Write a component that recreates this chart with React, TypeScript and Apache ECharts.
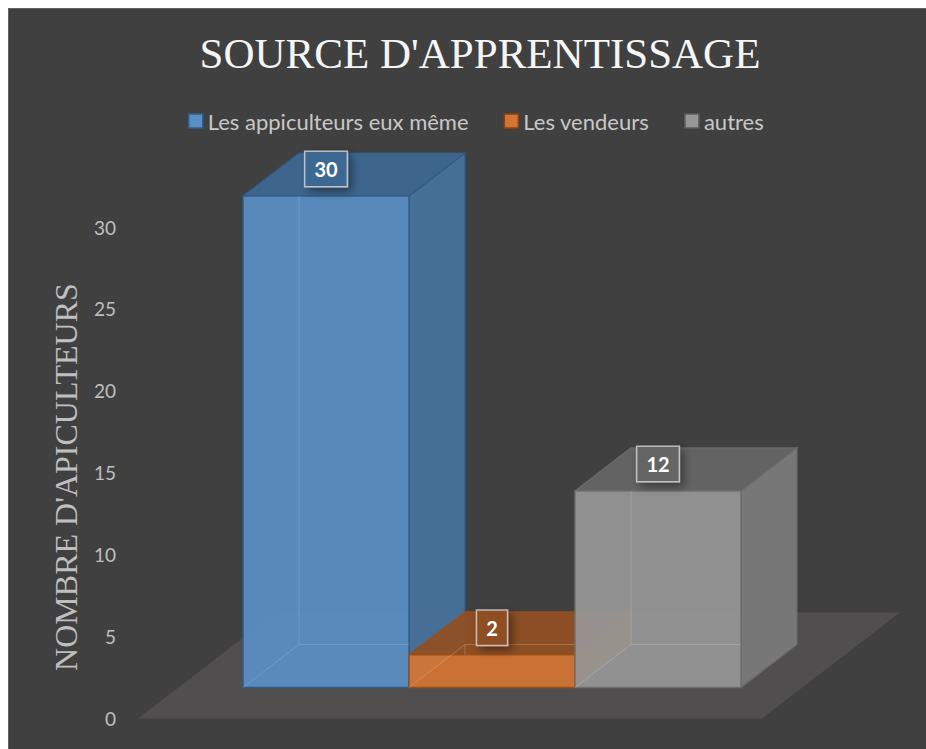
import React, { useEffect, useRef } from 'react';
import * as echarts from 'echarts';

// ---------- data ----------
const chartTitle = "SOURCE D'APPRENTISSAGE";
const yAxisTitle = "NOMBRE D'APICULTEURS";
const categories = ['Source'];
const seriesNames = ['Les appiculteurs eux même', 'Les vendeurs', 'autres'];
const seriesValues = [30, 2, 12];
const Y_MIN = 0;
const Y_MAX = 30;
const Y_INTERVAL = 5;

// ---------- styling ----------
const palette = [
  { front: '#5a8fc4', top: '#3e6892', side: '#46729b', edge: '#2e5c88', hidden: 'rgba(150,200,250,0.30)', legendBorder: '#2f5f8f' },
  { front: '#d57533', top: '#8f5023', side: '#a85b22', edge: '#9a4e17', hidden: 'rgba(255,190,140,0.30)', legendBorder: '#8a4312' },
  { front: '#979797', top: '#656565', side: '#7a7a7a', edge: '#6c6c6c', hidden: 'rgba(230,230,230,0.22)', legendBorder: '#5e5e5e' },
];
const BAR_FRACTION = 0.266;
const FRONT_DX = 42;
const FRONT_DY = 31;
const DEPTH_DX = 56;
const DEPTH_DY = 43;
const FLOOR_DX = 138;
const FLOOR_DY = 106;
const LABEL_OFFSET = 27;

function makeBarRender(idx: number) {
  return (params: any, api: any) => {
    const v = api.value(1);
    const p0 = api.coord([api.value(0), Y_MIN]);
    const p1 = api.coord([api.value(0), v]);
    const band = api.size([1, 0])[0];
    const barW = band * BAR_FRACTION;
    const x0 = p0[0] - (seriesNames.length / 2) * barW + idx * barW + FRONT_DX;
    const x1 = x0 + barW;
    const yb = p0[1] - FRONT_DY;
    const yt = p1[1] - FRONT_DY;
    const c = palette[idx];
    const front = [[x0, yb], [x1, yb], [x1, yt], [x0, yt]];
    const top = [[x0, yt], [x1, yt], [x1 + DEPTH_DX, yt - DEPTH_DY], [x0 + DEPTH_DX, yt - DEPTH_DY]];
    const side = [[x1, yb], [x1 + DEPTH_DX, yb - DEPTH_DY], [x1 + DEPTH_DX, yt - DEPTH_DY], [x1, yt]];
    return {
      type: 'group',
      children: [
        { type: 'polygon', shape: { points: side }, style: { fill: c.side, stroke: c.edge, lineWidth: 1.2, opacity: 0.94 } },
        { type: 'polygon', shape: { points: top }, style: { fill: c.top, stroke: c.edge, lineWidth: 1.2, opacity: 0.94 } },
        { type: 'polygon', shape: { points: front }, style: { fill: c.front, stroke: c.edge, lineWidth: 1.5, opacity: 0.92 } },
        { type: 'line', shape: { x1: x0 + DEPTH_DX, y1: yt, x2: x0 + DEPTH_DX, y2: yb - DEPTH_DY }, style: { stroke: c.hidden, lineWidth: 1 } },
        { type: 'line', shape: { x1: x0 + DEPTH_DX, y1: yb - DEPTH_DY, x2: x1, y2: yb - DEPTH_DY }, style: { stroke: c.hidden, lineWidth: 1 } },
        { type: 'line', shape: { x1: x0, y1: yb, x2: x0 + DEPTH_DX, y2: yb - DEPTH_DY }, style: { stroke: c.hidden, lineWidth: 1 } },
        {
          type: 'text',
          z2: 20,
          style: {
            text: String(v),
            x: (x0 + x1) / 2,
            y: yt - LABEL_OFFSET,
            align: 'center',
            verticalAlign: 'middle',
            fill: '#ffffff',
            fontFamily: 'Lato',
            fontWeight: 'bold',
            fontSize: 20,
            backgroundColor: c.top,
            borderColor: 'rgba(225,225,225,0.75)',
            borderWidth: 1.5,
            padding: [7, 9],
            shadowColor: 'rgba(0,0,0,0.45)',
            shadowBlur: 10,
            shadowOffsetX: 4,
            shadowOffsetY: 4,
          },
        },
      ],
    };
  };
}

export default function App() {
  const ref = useRef<HTMLDivElement>(null);
  useEffect(() => {
    if (!ref.current) return;
    const chart = echarts.init(ref.current, null, { renderer: 'svg' });
    const floorSeries: any = {
      type: 'custom',
      name: 'floor',
      silent: true,
      z: 1,
      data: [[0, Y_MIN]],
      encode: { x: 0, y: 1 },
      renderItem: (params: any, api: any) => {
        const cs = params.coordSys;
        const yf = api.coord([0, Y_MIN])[1];
        const xl = cs.x;
        const xr = cs.x + cs.width;
        return {
          type: 'polygon',
          shape: { points: [[xl, yf], [xr, yf], [xr + FLOOR_DX, yf - FLOOR_DY], [xl + FLOOR_DX, yf - FLOOR_DY]] },
          style: { fill: '#504e4e' },
        };
      },
    };
    const barSeries = seriesNames.map((name, i) => ({
      type: 'custom',
      name,
      z: 2,
      data: [[0, seriesValues[i]]],
      encode: { x: 0, y: 1 },
      itemStyle: { color: palette[i].front },
      renderItem: makeBarRender(i),
    }));
    chart.setOption({
      animation: false,
      backgroundColor: '#404040',
      title: {
        text: chartTitle,
        left: 466,
        textAlign: 'center',
        top: 18,
        textStyle: { fontFamily: 'Liberation Serif', fontSize: 43, fontWeight: 'normal', color: '#f5f5f5' },
      },
      legend: {
        data: seriesNames.map((name, i) => ({
          name,
          itemStyle: { color: palette[i].front, borderColor: palette[i].legendBorder, borderWidth: 1.5 },
        })),
        left: 179,
        top: 101,
        padding: 0,
        icon: 'rect',
        itemWidth: 14,
        itemHeight: 14,
        itemGap: 35,
        textStyle: { color: '#c8c8c8', fontFamily: 'Lato', fontSize: 22 },
      },
      grid: { left: 129, right: 164, top: 218, bottom: 30.5 },
      xAxis: {
        type: 'category',
        data: categories,
        axisLine: { show: false },
        axisTick: { show: false },
        axisLabel: { show: false },
        splitLine: { show: false },
      },
      yAxis: {
        type: 'value',
        min: Y_MIN,
        max: Y_MAX,
        interval: Y_INTERVAL,
        axisLine: { show: false },
        axisTick: { show: false },
        splitLine: { show: false },
        axisLabel: { color: '#bfbfbf', fontFamily: 'Lato', fontSize: 19, margin: 22 },
      },
      graphic: [
        {
          type: 'text',
          x: 57,
          y: 468,
          rotation: Math.PI / 2,
          style: {
            text: yAxisTitle,
            fontFamily: 'Liberation Serif',
            fontSize: 32,
            fill: '#bfbfbf',
            align: 'center',
            verticalAlign: 'middle',
          },
        },
      ],
      series: [floorSeries, ...barSeries],
    });
    return () => chart.dispose();
  }, []);
  return (
    <div style={{ position: 'fixed', left: 0, top: 0, width: 926, height: 749, background: '#ffffff' }}>
      <div style={{ position: 'absolute', left: 8, top: 8, width: 918, height: 741, background: '#646464' }} />
      <div ref={ref} style={{ position: 'absolute', left: 9, top: 9, width: 917, height: 740 }} />
    </div>
  );
}
